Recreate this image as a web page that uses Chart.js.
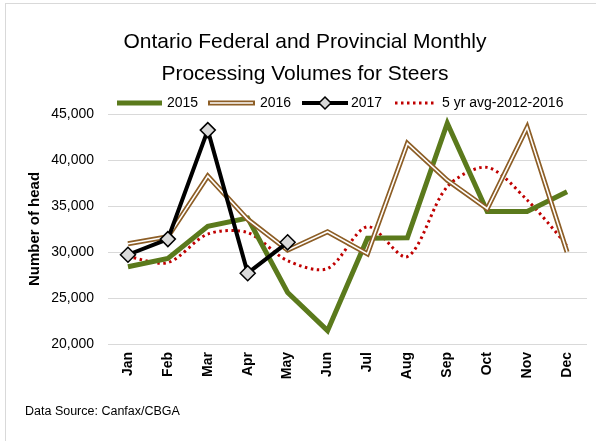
<!DOCTYPE html>
<html>
<head>
<meta charset="utf-8">
<script src="https://cdn.jsdelivr.net/npm/chart.js@4.4.0/dist/chart.umd.min.js"></script>
<style>
  html, body { margin: 0; padding: 0; background: #fff; }
  #wrap { width: 596px; height: 441px; position: relative; }
</style>
</head>
<body>
<div id="wrap"><canvas id="c" width="596" height="441"></canvas></div>
<script>
const months = ['Jan', 'Feb', 'Mar', 'Apr', 'May', 'Jun', 'Jul', 'Aug', 'Sep', 'Oct', 'Nov', 'Dec'];
const y2015 = [28400, 29300, 32800, 33700, 25600, 21450, 31500, 31550, 44000, 34400, 34400, 36550];
const y2016 = [30900, 31650, 38250, 33550, 30200, 32200, 29800, 41800, 37800, 34700, 43550, 30000];
const y2017 = [29700, 31400, 43250, 27700, 31050];
const avg5yr = [29500, 28850, 31950, 32100, 29050, 28200, 32750, 29500, 37100, 39200, 35650, 30750];
const yTicks = [20000, 25000, 30000, 35000, 40000, 45000];

const FONT = '"Liberation Sans Narrow", "Liberation Sans", sans-serif';
const GREEN = '#5b7a1c';
const BROWN = '#8d5e26';
const RED = '#c00000';

function fmt(v) {
  return v.toLocaleString('en-US');
}

// title, legend, footer and frame
const decor = {
  id: 'decor',
  beforeDraw(chart) {
    const ctx = chart.ctx;
    ctx.save();
    ctx.fillStyle = '#fff';
    ctx.fillRect(0, 0, chart.width, chart.height);
    ctx.strokeStyle = '#d9d9d9';
    ctx.lineWidth = 1;
    ctx.strokeRect(5.5, 3.5, 600, 460);
    ctx.restore();
  },
  afterDraw(chart) {
    const ctx = chart.ctx;
    ctx.save();
    ctx.fillStyle = '#000';
    ctx.textAlign = 'center';
    ctx.textBaseline = 'middle';
    ctx.font = '21px ' + FONT;
    ctx.fillText('Ontario Federal and Provincial Monthly', 305, 42);
    ctx.fillText('Processing Volumes for Steers', 305, 74);

    // legend
    const ly = 103;
    ctx.font = '14px ' + FONT;
    ctx.textAlign = 'left';
    ctx.lineCap = 'butt';

    ctx.strokeStyle = GREEN; ctx.lineWidth = 5;
    ctx.beginPath(); ctx.moveTo(117, ly); ctx.lineTo(162, ly); ctx.stroke();
    ctx.fillText('2015', 167, ly);

    ctx.strokeStyle = BROWN; ctx.lineWidth = 5;
    ctx.beginPath(); ctx.moveTo(208, ly); ctx.lineTo(255, ly); ctx.stroke();
    ctx.strokeStyle = '#fff'; ctx.lineWidth = 1.6;
    ctx.beginPath(); ctx.moveTo(210, ly); ctx.lineTo(253, ly); ctx.stroke();
    ctx.fillText('2016', 260, ly);

    ctx.strokeStyle = '#000'; ctx.lineWidth = 4;
    ctx.beginPath(); ctx.moveTo(302, ly); ctx.lineTo(348, ly); ctx.stroke();
    ctx.fillStyle = '#d9d9d9'; ctx.lineWidth = 1.5;
    ctx.beginPath();
    ctx.moveTo(325, ly - 6); ctx.lineTo(331, ly); ctx.lineTo(325, ly + 6); ctx.lineTo(319, ly);
    ctx.closePath(); ctx.fill(); ctx.stroke();
    ctx.fillStyle = '#000';
    ctx.fillText('2017', 351, ly);

    ctx.strokeStyle = RED; ctx.lineWidth = 3;
    ctx.setLineDash([2.5, 3.5]);
    ctx.beginPath(); ctx.moveTo(395, ly); ctx.lineTo(434, ly); ctx.stroke();
    ctx.setLineDash([]);
    ctx.fillText('5 yr avg-2012-2016', 442, ly);

    ctx.font = '12.5px ' + FONT;
    ctx.fillText('Data Source: Canfax/CBGA', 25, 412);
    ctx.restore();
  }
};

const data = {
  labels: months,
  datasets: [
    {
      label: '5 yr avg-2012-2016',
      data: avg5yr,
      borderColor: RED,
      borderWidth: 3,
      borderDash: [2.5, 3.5],
      tension: 0.3,
      pointRadius: 0,
      fill: false,
      order: 4
    },
    {
      label: '2015',
      data: y2015,
      borderColor: GREEN,
      borderWidth: 5,
      pointRadius: 0,
      fill: false,
      order: 3
    },
    {
      label: '2016',
      data: y2016,
      borderColor: BROWN,
      borderWidth: 5,
      pointRadius: 0,
      fill: false,
      order: 2
    },
    {
      label: '2016 inner',
      data: y2016,
      borderColor: '#fff',
      borderWidth: 1.6,
      pointRadius: 0,
      fill: false,
      order: 1
    },
    {
      label: '2017',
      data: y2017,
      borderColor: '#000',
      borderWidth: 4,
      pointStyle: 'rectRot',
      pointRadius: 7.5,
      pointBackgroundColor: '#d9d9d9',
      pointBorderColor: '#000',
      pointBorderWidth: 1.5,
      fill: false,
      order: 0
    }
  ]
};

const config = {
  type: 'line',
  data: data,
  options: {
    responsive: false,
    animation: false,
    layout: { padding: { left: 26, right: 8, top: 114, bottom: 47 } },
    plugins: {
      legend: { display: false },
      title: { display: false },
      tooltip: { enabled: false }
    },
    scales: {
      x: {
        offset: true,
        grid: { display: false, drawTicks: false },
        border: { display: false },
        ticks: {
          minRotation: 90,
          maxRotation: 90,
          padding: 8,
          color: '#000',
          font: { family: FONT, size: 14, weight: 'bold' }
        },
        afterFit(scale) { scale.height = 50; }
      },
      y: {
        min: 20000,
        max: 45000,
        afterBuildTicks(scale) { scale.ticks = yTicks.map(v => ({ value: v })); },
        grid: { color: '#d9d9d9', drawTicks: false },
        border: { display: false },
        ticks: {
          padding: 14,
          color: '#000',
          font: { family: FONT, size: 14 },
          callback: v => fmt(v)
        },
        title: {
          display: true,
          text: 'Number of head',
          color: '#000',
          font: { family: FONT, size: 15, weight: 'bold' },
          padding: 0
        },
        afterFit(scale) { scale.width = 82; }
      }
    }
  },
  plugins: [decor]
};

new Chart(document.getElementById('c').getContext('2d'), config);
</script>
</body>
</html>
